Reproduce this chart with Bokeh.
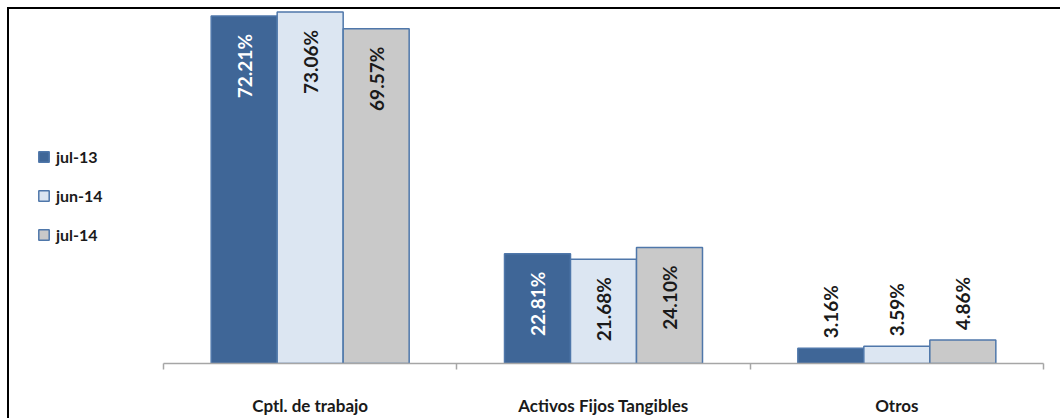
import math

from bokeh.plotting import figure
from bokeh.models import ColumnDataSource, FixedTicker, Legend, LegendItem, InlineStyleSheet
from bokeh.core.properties import value
from bokeh.embed import file_html
from bokeh.resources import INLINE

# Distribution of assets by type (% of total)
categories = ["Cptl. de trabajo", "Activos Fijos Tangibles", "Otros"]
series = ["jul-13", "jun-14", "jul-14"]
jul_13 = [72.21, 22.81, 3.16]
jun_14 = [73.06, 21.68, 3.59]
jul_14 = [69.57, 24.10, 4.86]
values = [jul_13, jun_14, jul_14]

fills = ["#3F6697", "#DCE6F2", "#C9C9C9"]
label_colors = ["#FFFFFF", "#1A1A1A", "#1A1A1A"]
edge = "#4F77AA"
BAR_W = 0.225
INSIDE_MIN = 10.0  # shorter bars carry their label above the bar
FONT = value("Lato")
X_START = -0.5216  # room on the left of the first category for the legend

# frame lines on the left and top edge of the chart area
frame_css = InlineStyleSheet(css="""
:host { position: relative; }
:host::before {
  content: ""; position: absolute; left: 7px; top: 7px; right: 0; bottom: 0;
  border-left: 2px solid #000; border-top: 2px solid #000;
  pointer-events: none; z-index: 10;
}
""")

n = len(categories)
p = figure(width=1060, height=418, x_range=(X_START, n), y_range=(0, 73.36),
           output_backend="svg", toolbar_location=None, y_axis_location=None,
           min_border_left=10, min_border_right=17, min_border_top=10,
           min_border_bottom=50, stylesheets=[frame_css])
p.outline_line_color = None
p.xgrid.visible = False
p.ygrid.visible = False

items = []
for j, (name, vals) in enumerate(zip(series, values)):
    xs = [i + 0.5 + (j - 1) * BAR_W for i in range(n)]
    src = ColumnDataSource(dict(x=xs, top=vals))
    r = p.vbar(x="x", top="top", width=BAR_W, source=src, fill_color=fills[j],
               line_color=edge, line_width=1.5)
    items.append(LegendItem(label=name, renderers=[r]))

    inside = [k for k, v in enumerate(vals) if v >= INSIDE_MIN]
    outside = [k for k, v in enumerate(vals) if v < INSIDE_MIN]
    if inside:
        p.text(x=[xs[k] for k in inside], y=[vals[k] for k in inside],
               text=[f"{vals[k]:.2f}%" for k in inside], angle=math.pi / 2,
               text_align="right", text_baseline="middle", y_offset=18,
               text_font=FONT, text_font_style="bold", text_font_size="19px",
               text_color=label_colors[j])
    if outside:
        p.text(x=[xs[k] for k in outside], y=[vals[k] for k in outside],
               text=[f"{vals[k]:.2f}%" for k in outside], angle=math.pi / 2,
               text_align="left", text_baseline="middle", y_offset=-10,
               text_font=FONT, text_font_style="bold", text_font_size="19px",
               text_color="#1A1A1A")

# category axis: labels at the centres, tick marks at the boundaries
ax = p.xaxis[0]
ax.bounds = (0, n)
ax.ticker = FixedTicker(ticks=[i + 0.5 for i in range(n)],
                        minor_ticks=list(range(n + 1)))
ax.major_label_overrides = {i + 0.5: c for i, c in enumerate(categories)}
ax.major_tick_line_color = None
ax.major_tick_out = 0
ax.major_tick_in = 0
ax.minor_tick_line_color = "#A6A6A6"
ax.minor_tick_line_width = 1.5
ax.minor_tick_out = 6
ax.minor_tick_in = 0
ax.axis_line_color = "#A6A6A6"
ax.axis_line_width = 1.5
ax.major_label_standoff = 25
ax.major_label_text_font = "Lato"
ax.major_label_text_font_style = "bold"
ax.major_label_text_font_size = "17px"
ax.major_label_text_color = "#1A1A1A"

legend = Legend(items=items, location=(27, 119), glyph_width=13, glyph_height=13,
                label_height=20, spacing=19, label_standoff=6, padding=0, margin=0,
                border_line_color=None, background_fill_alpha=0,
                label_text_font="Lato", label_text_font_style="bold",
                label_text_font_size="16px", label_text_color="#1A1A1A")
p.add_layout(legend, "center")

open("out.html", "w").write(file_html(p, INLINE))
